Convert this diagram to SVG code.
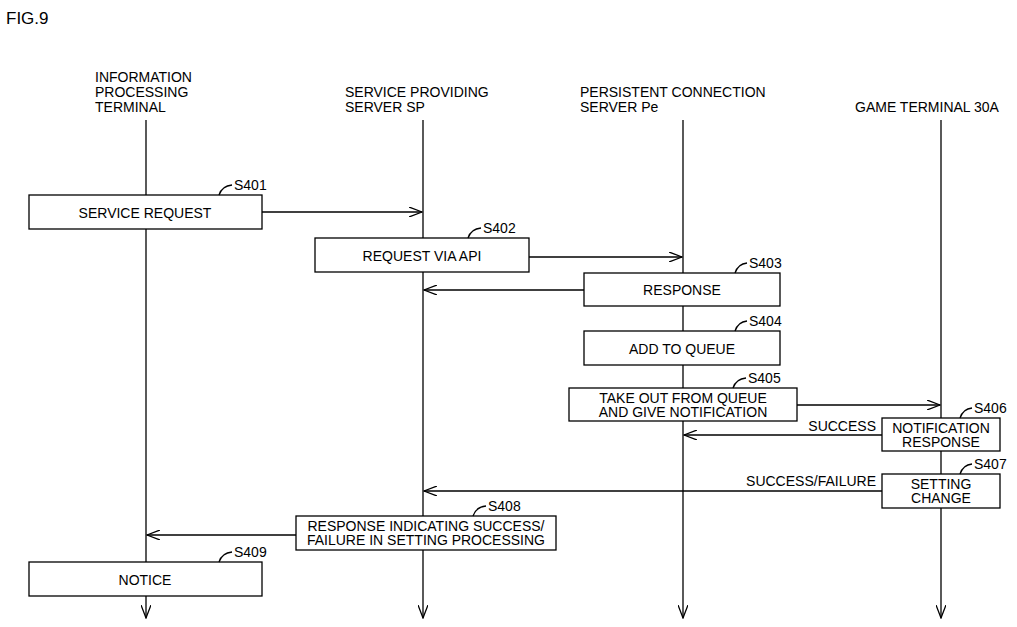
<svg xmlns="http://www.w3.org/2000/svg" width="1017" height="627" viewBox="0 0 1017 627">
<style>
text{font-family:"Liberation Sans",Arial,sans-serif;font-size:14px;fill:#000}
.b{fill:#fff;stroke:#000;stroke-width:1.3}
.l{stroke:#000;stroke-width:1.3;fill:none}
.m{text-anchor:middle}
</style>
<defs>
<marker id="a" markerWidth="14" markerHeight="10" refX="13" refY="5" orient="auto" markerUnits="userSpaceOnUse"><path d="M0,0 L13,5 L0,10" fill="none" stroke="#000" stroke-width="1.3"/></marker>
</defs>
<rect width="1017" height="627" fill="#fff"/>
<text x="6" y="24" style="font-size:17px">FIG.9</text>
<g id="lifelines">
<text x="95" y="82">INFORMATION</text><text x="95" y="97">PROCESSING</text><text x="95" y="112">TERMINAL</text>
<text x="345" y="97">SERVICE PROVIDING</text><text x="345" y="112">SERVER SP</text>
<text x="580" y="97">PERSISTENT CONNECTION</text><text x="580" y="112">SERVER Pe</text>
<text x="855" y="112">GAME TERMINAL 30A</text>
</g>
<g id="connectors">
<line class="l" x1="146" y1="120" x2="146" y2="618" marker-end="url(#a)"/>
<line class="l" x1="423" y1="120" x2="423" y2="618" marker-end="url(#a)"/>
<line class="l" x1="683" y1="120" x2="683" y2="618" marker-end="url(#a)"/>
<line class="l" x1="941" y1="120" x2="941" y2="618" marker-end="url(#a)"/>
<line class="l" x1="262" y1="212" x2="422" y2="212" marker-end="url(#a)"/>
<line class="l" x1="529" y1="257" x2="682" y2="257" marker-end="url(#a)"/>
<line class="l" x1="584" y1="290" x2="424" y2="290" marker-end="url(#a)"/>
<line class="l" x1="797" y1="405" x2="940" y2="405" marker-end="url(#a)"/>
<line class="l" x1="882" y1="435" x2="684" y2="435" marker-end="url(#a)"/>
<line class="l" x1="882" y1="491" x2="424" y2="491" marker-end="url(#a)"/>
<line class="l" x1="296" y1="535" x2="147" y2="535" marker-end="url(#a)"/>
<text x="876" y="431" text-anchor="end">SUCCESS</text>
<text x="876" y="486" text-anchor="end">SUCCESS/FAILURE</text>
</g>
<g id="s401"><rect class="b" x="29" y="195" width="233" height="34"/><text class="m" x="145" y="218">SERVICE REQUEST</text><path class="l" d="M219,195 Q222,186 232,185"/><text x="234" y="190">S401</text></g>
<g id="s402"><rect class="b" x="315" y="238" width="214" height="34"/><text class="m" x="422" y="261">REQUEST VIA API</text><path class="l" d="M468,238 Q471,229 481,228"/><text x="483" y="233">S402</text></g>
<g id="s403"><rect class="b" x="584" y="273" width="196" height="33"/><text class="m" x="682" y="295">RESPONSE</text><path class="l" d="M735,273 Q738,264 747,263"/><text x="749" y="268">S403</text></g>
<g id="s404"><rect class="b" x="584" y="331" width="196" height="34"/><text class="m" x="682" y="354">ADD TO QUEUE</text><path class="l" d="M735,331 Q738,322 747,321"/><text x="749" y="326">S404</text></g>
<g id="s405"><rect class="b" x="569" y="388" width="228" height="33"/><text class="m" x="683" y="403">TAKE OUT FROM QUEUE</text><text class="m" x="683" y="417">AND GIVE NOTIFICATION</text><path class="l" d="M733,388 Q736,379 746,378"/><text x="748" y="383">S405</text></g>
<g id="s406"><rect class="b" x="882" y="418" width="118" height="33"/><text class="m" x="941" y="433">NOTIFICATION</text><text class="m" x="941" y="447">RESPONSE</text><path class="l" d="M960,418 Q963,409 972,408"/><text x="974" y="413">S406</text></g>
<g id="s407"><rect class="b" x="882" y="474" width="118" height="34"/><text class="m" x="941" y="489">SETTING</text><text class="m" x="941" y="503">CHANGE</text><path class="l" d="M960,474 Q963,465 972,464"/><text x="974" y="469">S407</text></g>
<g id="s408"><rect class="b" x="296" y="516" width="260" height="34"/><text class="m" x="426" y="531">RESPONSE INDICATING SUCCESS/</text><text class="m" x="426" y="545">FAILURE IN SETTING PROCESSING</text><path class="l" d="M473,516 Q476,507 486,506"/><text x="488" y="511">S408</text></g>
<g id="s409"><rect class="b" x="29" y="562" width="233" height="34"/><text class="m" x="145" y="585">NOTICE</text><path class="l" d="M219,562 Q222,553 232,552"/><text x="234" y="557">S409</text></g>
</svg>
